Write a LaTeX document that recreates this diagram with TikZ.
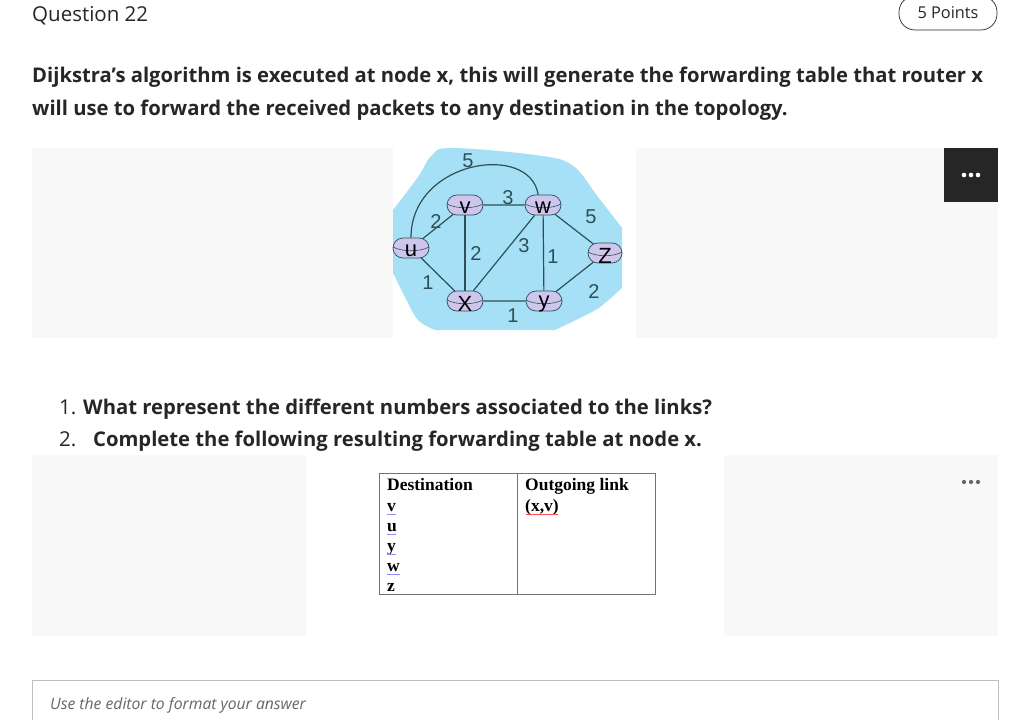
\documentclass[tikz,border=0pt]{standalone}
\usepackage{fontspec}
\setmainfont{Open Sans}
\newfontfamily\figfont{Liberation Sans}
\newfontfamily\tabfont{Liberation Serif}
\usetikzlibrary{shapes.misc}
\definecolor{ink}{HTML}{262626}
\definecolor{panelgrey}{HTML}{F8F8F8}
\definecolor{blobblue}{HTML}{A6E0F6}
\definecolor{routerfill}{HTML}{CFC6EE}
\definecolor{linkline}{HTML}{2F4F55}
\tikzset{
  line/.style={anchor=base west,inner sep=0pt,text=ink},
  big/.style={line,font=\fontsize{20.5}{20}\selectfont},
  stem/.style={line,font=\fontsize{20.24}{20}\selectfont\bfseries},
  panel/.style={fill=panelgrey,draw=none},
  router/.style={rounded rectangle,draw=linkline,line width=0.7pt,
    fill=routerfill,minimum width=36pt,minimum height=20pt,inner sep=0pt,
    path picture={\draw[linkline,line width=0.6pt] ([yshift=1pt]path picture bounding box.west)
      .. controls +(9,5) and +(-9,5) .. ([yshift=1pt]path picture bounding box.east);},
    label={[inner sep=0pt,yshift=-3pt,font=\figfont\fontsize{22}{22}\selectfont,text=black]center:#1}},
  link/.style={draw=linkline,line width=1.2pt},
  weight/.style={inner sep=0pt,font=\figfont\fontsize{20}{20}\selectfont,text=linkline},
  cell/.style={anchor=base west,inner sep=0pt,text=black,font=\tabfont\fontsize{17.5}{17.5}\selectfont\bfseries},
  spell/.style={draw=blue!45,line width=0.9pt},
}
\begin{document}
\begin{tikzpicture}[x=1pt,y=-1pt]
  \clip (0,0) rectangle (1029,720);
  \fill[white] (0,0) rectangle (1029,720);
  \node[big] (qtitle) at (32,21) {Question 22};
  \node[draw=ink,rounded corners=16pt,line width=0.7pt,minimum width=98pt,minimum height=34pt,
    inner sep=0pt,text=ink,font=\fontsize{16.3}{16}\selectfont] (points) at (948,13) {5 Points};
  \node[stem] (stemA) at (32,82) {Dijkstra’s algorithm is executed at node x, this will generate the forwarding table that router x};
  \node[stem] (stemB) at (32,115) {will use to forward the received packets to any destination in the topology.};
  \fill[panel] (32,148) rectangle (393,338);
  \fill[panel] (636,148) rectangle (998,338);
  \fill[ink] (944,148) rectangle (998,202);
  \fill[white] (964,175) circle (2.3) (971,175) circle (2.3) (978,175) circle (2.3);
  \fill[blobblue] plot[smooth,tension=0.6] coordinates {(393,210) (418,177) (432,155) (452,148) (535,155) (572,165) (598,197) (622,228)}
    -- (622,288) -- plot[smooth,tension=0.6] coordinates {(622,288) (605,303) (592,312) (555,330)}
    -- (435,330) -- plot[smooth,tension=0.6] coordinates {(435,330) (418,320) (405,297) (393,273)} -- cycle;
  \node[router=u] (u) at (411,248) {};
  \node[router=v] (v) at (465,205) {};
  \node[router=w] (w) at (543,205) {};
  \node[router=X] (x) at (465,301) {};
  \node[router=y] (y) at (544,301) {};
  \node[router=Z,minimum width=34pt] (z) at (605,253) {};
  \draw[link] (u) -- (v);
  \draw[link] (u) -- (x);
  \draw[link] (v) -- (w);
  \draw[link] (v) -- (x);
  \draw[link] (x) -- (y);
  \draw[link] (x) -- (w);
  \draw[link] (w) -- (y);
  \draw[link] (w) -- (z);
  \draw[link] (y) -- (z);
  \draw[link] (u.north) .. controls (411,160) and (530,142) .. (w.115);
  \node[weight] (lUW) at (468,161) {5};
  \node[weight] (lVW) at (508,198) {3};
  \node[weight] (lUV) at (436,222) {2};
  \node[weight] (lVX) at (476,254) {2};
  \node[weight] (lXW) at (524,246) {3};
  \node[weight] (lWY) at (553,257) {1};
  \node[weight] (lWZ) at (591,217) {5};
  \node[weight] (lUX) at (428,283) {1};
  \node[weight] (lXY) at (513,316) {1};
  \node[weight] (lYZ) at (594,292) {2};
  \node[big] (numA) at (59,414) {1.};
  \node[stem] (itemA) at (83,414) {What represent the different numbers associated to the links?};
  \node[big] (numB) at (59,446) {2.};
  \node[stem] (itemB) at (93,446) {Complete the following resulting forwarding table at node x.};
  \fill[panel] (32,455) rectangle (306,636);
  \fill[panel] (724,455) rectangle (998,636);
  \fill[black!60] (964,482) circle (2.1) (971,482) circle (2.1) (978,482) circle (2.1);
  \node[draw=black!55,line width=1.3pt,minimum width=276pt,minimum height=121pt,inner sep=0pt,anchor=north west] (fwdtable) at (379,473) {};
  \draw[black!55,line width=1.3pt] (fwdtable.north) -- (fwdtable.south);
  \node[cell] (hDest) at (387,490) {Destination};
  \node[cell] (hLink) at (525,490) {Outgoing link};
  \node[cell] (dV) at (387,511) {v};
  \node[cell] (dU) at (387,531) {u};
  \node[cell] (dY) at (387,551) {y};
  \node[cell] (dW) at (387,571) {w};
  \node[cell] (dZ) at (387,591) {z};
  \node[cell] (oV) at (525,511) {(x,v)};
  \draw[spell] (387,514) -- (396,514);
  \draw[spell] (387,534) -- (396,534);
  \draw[spell] (387,554) -- (396,554);
  \draw[spell] (387,574) -- (400,574);
  \draw[red!70,line width=0.7pt] (526,514) -- (558,514);
  \draw[black!25,line width=0.9pt] (32,720.5) -- (32,680) -- (998,680) -- (998,720.5);
  \node[line,text=black!60,font=\fontsize{15.7}{16}\selectfont\itshape] (hint) at (50,709) {Use the editor to format your answer};
\end{tikzpicture}
\end{document}
